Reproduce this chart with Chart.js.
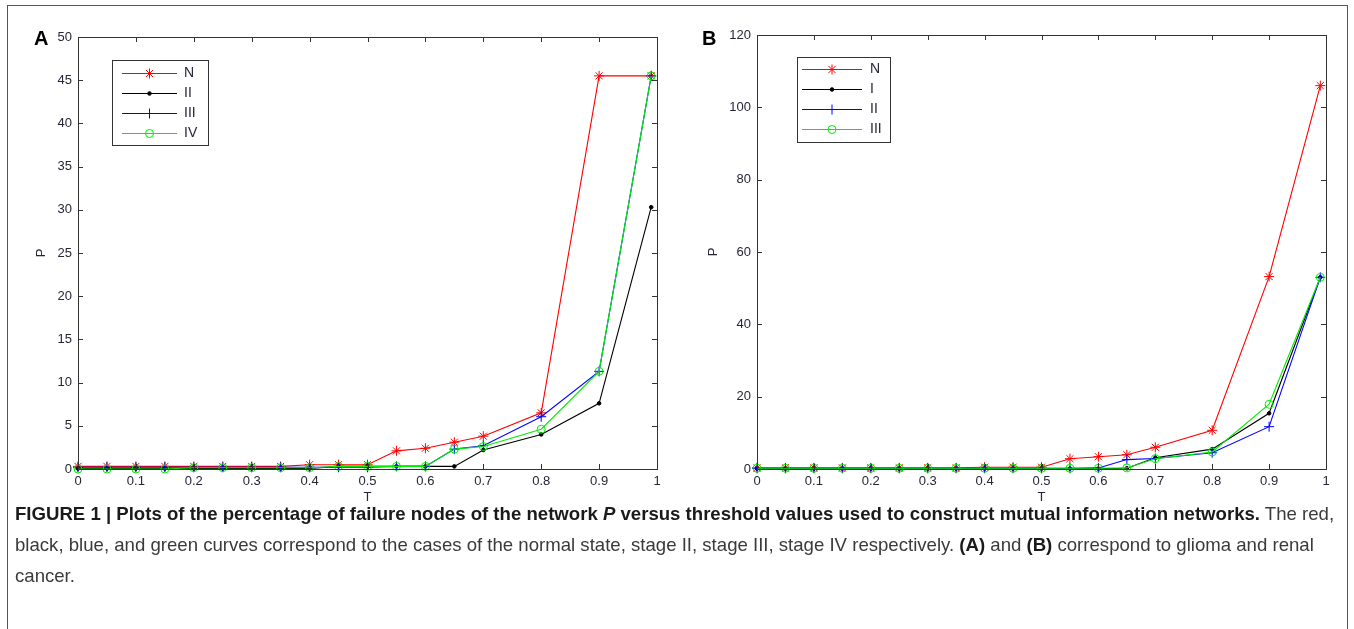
<!DOCTYPE html>
<html>
<head>
<meta charset="utf-8">
<script src="https://cdn.jsdelivr.net/npm/chart.js@4.4.1/dist/chart.umd.min.js"></script>
<style>
  html, body { margin: 0; padding: 0; background: #fff; width: 1354px; height: 629px; overflow: hidden; }
  #frame { position: absolute; left: 7px; top: 5px; width: 1341px; height: 640px; border: 1px solid #555; box-sizing: border-box; }
  .wrap { position: absolute; top: 0; height: 520px; }
  .panel { position: absolute; top: 27px; font: bold 20px "Liberation Sans", Arial, sans-serif; color: #000; }
  #caption { position: absolute; left: 15px; top: 498px; font: 18.6px/31px "Liberation Sans", Arial, sans-serif; color: #3a3a3a; white-space: nowrap; }
  #caption b { color: #1a1a1a; }
</style>
</head>
<body>
<div id="frame"></div>
<div class="wrap" style="left:0;width:680px"><canvas id="cA" width="680" height="520"></canvas></div>
<div class="wrap" style="left:680px;width:674px"><canvas id="cB" width="674" height="520"></canvas></div>
<div class="panel" style="left:34px">A</div>
<div class="panel" style="left:702px">B</div>
<div id="caption"><b>FIGURE 1 | Plots of the percentage of failure nodes of the network <i>P</i> versus threshold values used to construct mutual information networks.</b> The red,<br>black, blue, and green curves correspond to the cases of the normal state, stage II, stage III, stage IV respectively. <b>(A)</b> and <b>(B)</b> correspond to glioma and renal<br>cancer.</div>
<script>
// ---- data ----
const T = [0, 0.05, 0.1, 0.15, 0.2, 0.25, 0.3, 0.35, 0.4, 0.45, 0.5, 0.55, 0.6, 0.65, 0.7, 0.8, 0.9, 0.99];
const xTickLabels = ['0', '0.1', '0.2', '0.3', '0.4', '0.5', '0.6', '0.7', '0.8', '0.9', '1'];

const seriesNamesA = ['N', 'II', 'III', 'IV'];
const A_N   = [0.3, 0.3, 0.3, 0.3, 0.3, 0.3, 0.3, 0.3, 0.5, 0.5, 0.5, 2.1, 2.4, 3.1, 3.8, 6.5, 45.5, 45.5];
const A_II  = [0.05, 0.05, 0.05, 0.05, 0.05, 0.05, 0.05, 0.05, 0.05, 0.3, 0.3, 0.3, 0.3, 0.3, 2.2, 4.0, 7.6, 30.3];
const A_III = [0.2, 0.2, 0.2, 0.2, 0.2, 0.2, 0.2, 0.2, 0.2, 0.2, 0.2, 0.3, 0.3, 2.3, 2.7, 6.05, 11.3, 45.5];
const A_IV  = [0, 0, 0, 0, 0.15, 0.15, 0.15, 0.15, 0.15, 0.3, 0.3, 0.3, 0.3, 2.3, 2.6, 4.6, 11.3, 45.5];
const yTickLabelsA = ['0', '5', '10', '15', '20', '25', '30', '35', '40', '45', '50'];

const seriesNamesB = ['N', 'I', 'II', 'III'];
const B_N   = [0.3, 0.3, 0.3, 0.3, 0.3, 0.3, 0.3, 0.3, 0.5, 0.5, 0.5, 2.85, 3.4, 3.95, 6.0, 10.7, 53.2, 106];
const B_I   = [0.1, 0.1, 0.1, 0.1, 0.1, 0.1, 0.1, 0.1, 0.1, 0.1, 0.1, 0.1, 0.1, 0.2, 3.1, 5.5, 15.4, 53];
const B_II  = [0.2, 0.2, 0.2, 0.2, 0.2, 0.2, 0.2, 0.2, 0.2, 0.2, 0.2, 0.2, 0.3, 2.6, 2.9, 4.5, 11.7, 53];
const B_III = [0.2, 0.2, 0.2, 0.2, 0.2, 0.2, 0.2, 0.2, 0.2, 0.2, 0.2, 0.2, 0.2, 0.3, 2.85, 4.7, 17.9, 53];
const yTickLabelsB = ['0', '20', '40', '60', '80', '100', '120'];

// ---- styles ----
const TXT = '#262636';
const FONT = '"Liberation Sans", Arial, sans-serif';
const styles = [
  { color: '#ff0000', pointStyle: 'star',   radius: 5, fill: 'rgba(0,0,0,0)' },
  { color: '#000000', pointStyle: 'circle', radius: 1.8, fill: '#000000' },
  { color: '#0000ff', pointStyle: 'cross',  radius: 5, fill: 'rgba(0,0,0,0)' },
  { color: '#00ee00', pointStyle: 'circle', radius: 4, fill: 'rgba(0,0,0,0)' }
];

function pts(vals) { return T.map((t, i) => ({ x: t, y: vals[i] })); }

function makeDatasets(names, series) {
  return series.map((vals, i) => ({
    label: names[i],
    data: pts(vals),
    borderColor: styles[i].color,
    backgroundColor: styles[i].fill,
    pointBorderColor: styles[i].color,
    pointBackgroundColor: styles[i].fill,
    pointStyle: styles[i].pointStyle,
    pointRadius: styles[i].radius,
    pointBorderWidth: 1,
    borderWidth: 1.1,
    tension: 0,
    fill: false,
    clip: false,
    order: series.length - i
  }));
}

// box, inward ticks, and MATLAB-like legend
const boxPlugin = {
  id: 'matlabBox',
  afterDatasetsDraw(chart, args, opts) {
    const ctx = chart.ctx;
    const a = chart.chartArea;
    const xs = chart.scales.x, ys = chart.scales.y;
    ctx.save();
    ctx.strokeStyle = '#333';
    ctx.lineWidth = 1;
    ctx.beginPath();
    xs.ticks.forEach(t => {
      const px = Math.round(xs.getPixelForValue(t.value)) + 0.5;
      ctx.moveTo(px, a.bottom); ctx.lineTo(px, a.bottom - 5);
      ctx.moveTo(px, a.top); ctx.lineTo(px, a.top + 5);
    });
    ys.ticks.forEach(t => {
      const py = Math.round(ys.getPixelForValue(t.value)) + 0.5;
      ctx.moveTo(a.left, py); ctx.lineTo(a.left + 5, py);
      ctx.moveTo(a.right, py); ctx.lineTo(a.right - 5, py);
    });
    ctx.stroke();
    ctx.strokeRect(Math.round(a.left) + 0.5, Math.round(a.top) + 0.5, Math.round(a.right - a.left), Math.round(a.bottom - a.top));
    // legend
    const L = opts.legend;
    ctx.fillStyle = '#fff';
    ctx.fillRect(L.x, L.y, L.w, L.h);
    ctx.strokeStyle = '#333';
    ctx.strokeRect(L.x + 0.5, L.y + 0.5, L.w, L.h);
    chart.data.datasets.forEach((ds, i) => {
      const y = L.firstY + i * L.gap + 0.5;
      ctx.lineWidth = 1.1;
      ctx.strokeStyle = ds.borderColor;
      ctx.beginPath();
      ctx.moveTo(L.lineX0, y); ctx.lineTo(L.lineX1, y);
      ctx.stroke();
      ctx.lineWidth = 1;
      ctx.fillStyle = ds.pointBackgroundColor;
      ctx.strokeStyle = ds.pointBorderColor;
      Chart.helpers.drawPoint(ctx, { pointStyle: ds.pointStyle, radius: ds.pointRadius, rotation: 0, borderWidth: 1 }, (L.lineX0 + L.lineX1) / 2, y);
      ctx.fillStyle = TXT;
      ctx.font = '14px ' + FONT;
      ctx.textBaseline = 'middle';
      ctx.textAlign = 'left';
      ctx.fillText(ds.label, L.textX, y);
    });
    ctx.restore();
  }
};

function makeChart(id, names, series, yMax, yStep, yLabels, layout) {
  return new Chart(document.getElementById(id), {
    type: 'line',
    data: { datasets: makeDatasets(names, series) },
    plugins: [boxPlugin],
    options: {
      responsive: false,
      animation: false,
      events: [],
      layout: { padding: { left: 0, top: layout.top, right: layout.right, bottom: 0 } },
      plugins: {
        legend: { display: false },
        tooltip: { enabled: false },
        matlabBox: { legend: layout.legend }
      },
      scales: {
        x: {
          type: 'linear', min: 0, max: 1,
          grid: { display: false, drawTicks: false },
          border: { display: false },
          ticks: { stepSize: 0.1, padding: 5, color: TXT, font: { size: 13, family: FONT }, maxRotation: 0,
                   callback: (v, i) => xTickLabels[i] },
          title: { display: true, text: 'T', color: TXT, font: { size: 13, family: FONT }, padding: { top: 0, bottom: 15 } },
          afterFit: s => { s.height = 51; }
        },
        y: {
          type: 'linear', min: 0, max: yMax,
          grid: { display: false, drawTicks: false },
          border: { display: false },
          ticks: { stepSize: yStep, padding: 6, color: TXT, font: { size: 13, family: FONT },
                   callback: (v, i) => yLabels[i] },
          title: { display: true, text: 'P', color: TXT, font: { size: 13, family: FONT }, padding: { top: layout.pTitle, bottom: 0 } },
          afterFit: s => { s.width = layout.yw; }
        }
      }
    }
  });
}

makeChart('cA', seriesNamesA, [A_N, A_II, A_III, A_IV], 50, 5, yTickLabelsA, {
  top: 37, right: 23, yw: 78, pTitle: 34,
  legend: { x: 112, y: 60, w: 96, h: 85, firstY: 73, gap: 20, lineX0: 122, lineX1: 177, textX: 184 }
});
makeChart('cB', seriesNamesB, [B_N, B_I, B_II, B_III], 120, 20, yTickLabelsB, {
  top: 35, right: 28, yw: 77, pTitle: 26,
  legend: { x: 117, y: 57, w: 93, h: 85, firstY: 69, gap: 20, lineX0: 122, lineX1: 182, textX: 190 }
});
</script>
</body>
</html>
